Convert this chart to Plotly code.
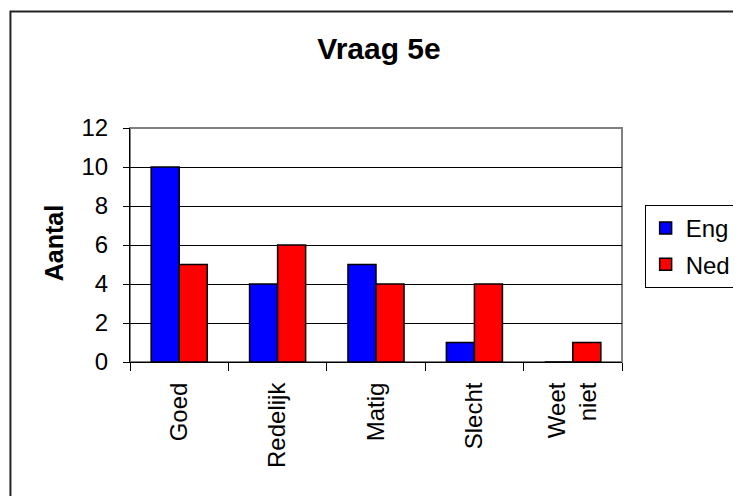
import plotly.graph_objects as go

categories = ["Goed", "Redelijk", "Matig", "Slecht", "Weet<br>niet"]
eng = [10, 4, 5, 1, 0]
ned = [5, 6, 4, 4, 1]
y_ticks = [0, 2, 4, 6, 8, 10, 12]

W, H = 741, 496
OFF = 8  # page body margin offset
ML, MT = 130 - OFF, 128 - OFF
PR, PB = 630 - OFF, 362 - OFF
MR, MB = W - PR, H - PB
pw = PR - ML
ph = PB - MT

def px_x(x):
    return (x - OFF - ML) / pw

def px_y(y):
    return (PB - (y - OFF)) / ph

fig = go.Figure()
fig.add_trace(go.Bar(name="Eng", x=categories, y=eng, legendgroup="a",
                     marker=dict(color="#0000FF", line=dict(color="black", width=1.5))))
fig.add_trace(go.Bar(name="Ned", x=categories, y=ned, legendgroup="b",
                     marker=dict(color="#FF0000", line=dict(color="black", width=1.5))))

font = "Liberation Sans, Arial, sans-serif"
fig.update_layout(
    width=W, height=H,
    margin=dict(l=ML, r=MR, t=MT, b=MB),
    paper_bgcolor="white", plot_bgcolor="white",
    barmode="group", bargap=0.43, bargroupgap=0,
    font=dict(family=font, size=24, color="black"),
    title=dict(text="<b>Vraag 5e</b>", x=(379 - OFF) / W, xanchor="center",
               y=1 - (48 - OFF) / H, yanchor="middle", font=dict(size=30, family=font)),
    legend=dict(x=px_x(653), y=px_y(205), xanchor="left", yanchor="top",
                bordercolor="black", borderwidth=1, bgcolor="white",
                font=dict(size=24), itemwidth=30, tracegroupgap=2,
                traceorder="grouped"),
    xaxis=dict(showline=True, linecolor="black", linewidth=1,
               ticks="outside", tickson="boundaries", ticklen=8, tickcolor="black",
               tickangle=-90, showgrid=False, tickfont=dict(size=24),
               ticklabelstandoff=10),
    yaxis=dict(range=[0, 12], tickvals=y_ticks, showline=True, linecolor="black",
               linewidth=1, ticks="outside", ticklen=6, tickcolor="black",
               showgrid=True, gridcolor="black", gridwidth=1, zeroline=False,
               tickfont=dict(size=24), ticklabelstandoff=10),
    shapes=[
        dict(type="rect", xref="paper", yref="paper", x0=0, x1=1, y0=0, y1=1,
             line=dict(color="#808080", width=2), layer="below"),
        dict(type="rect", xref="paper", yref="paper", x0=px_x(8.5), x1=px_x(770),
             y0=px_y(520), y1=px_y(11.5), line=dict(color="#222222", width=2),
             fillcolor="rgba(0,0,0,0)"),
    ],
    annotations=[
        dict(text="<b>Aantal</b>", xref="paper", yref="paper", x=px_x(53), y=px_y(243),
             textangle=-90, showarrow=False, font=dict(size=25, family=font),
             xanchor="center", yanchor="middle"),
    ],
)

fig.write_html("out.html")
